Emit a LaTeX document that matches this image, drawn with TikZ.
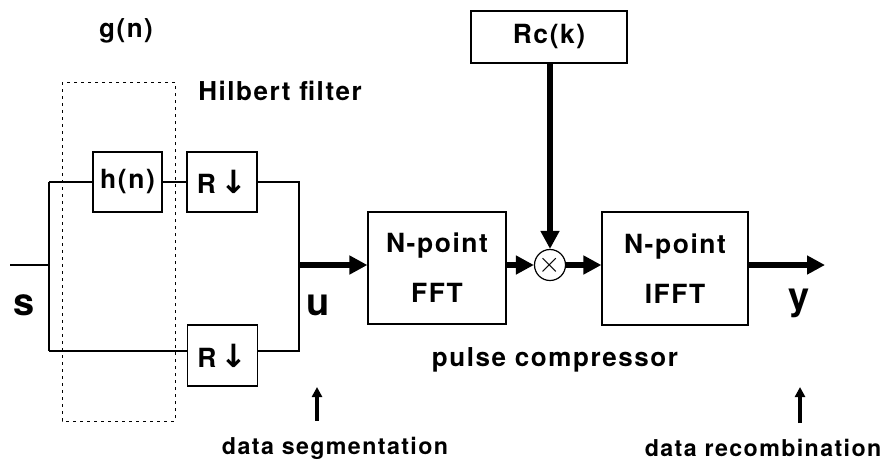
\documentclass[tikz,border=0pt]{standalone}
\usepackage{fontspec}
\setmainfont{TeX Gyre Heros}[LetterSpace=6]
\newfontfamily\arrowfont{DejaVu Sans}
\usepackage{tikz}
\usetikzlibrary{arrows.meta}

\begin{document}
\begin{tikzpicture}[x=0.5pt,y=-0.5pt,
  blk/.style={draw,line width=0.6pt,inner sep=0pt,font=\fontsize{13.2}{15}\selectfont\bfseries},
  sig/.style={line width=0.6pt},
  bus/.style={line width=2.6pt,-{Triangle[length=9pt,width=9pt]}},
  ptr/.style={line width=1.8pt,-{Triangle[length=5pt,width=5pt]}},
  lbl/.style={font=\fontsize{13}{15}\selectfont\bfseries},
  big/.style={font=\fontsize{19}{22}\selectfont\bfseries},
  note/.style={font=\fontsize{11.6}{13}\selectfont\bfseries}]
\useasboundingbox (0,0) rectangle (886,462);
%\draw[step=50,lightgray,very thin] (0,0) grid (886,462);
\draw[line width=0.5pt,dash pattern=on 1.5pt off 2pt] (62,82) rectangle (175,421);
\node[lbl] (gn) at (126,31) {g(n)};
\node[lbl] (hilb) at (280,91) {Hilbert filter};
\node[blk,minimum width=34.5pt,minimum height=30pt] (hn) at (127.5,182) {h(n)};
\node[blk,minimum width=35pt,minimum height=30pt] (rt) at (222,182) {R\,{\arrowfont\bfseries\fontsize{16}{16}\selectfont ↓}};
\node[blk,minimum width=35pt,minimum height=30.5pt] (rb) at (222.5,355.5) {R\,{\arrowfont\bfseries\fontsize{16}{16}\selectfont ↓}};
\node[blk,minimum width=69pt,minimum height=56pt,align=center] (fft) at (437,268) {N-point\\[10pt]FFT};
\node[blk,minimum width=73pt,minimum height=56.5pt,align=center] (ifft) at (675,268.5) {N-point\\[10pt]IFFT};
\node[blk,minimum width=78pt,minimum height=26pt] (rc) at (549,37) {Rc(k)};
\node[draw,circle,line width=0.6pt,minimum size=15.5pt,inner sep=0pt] (mul) at (550,265) {\Large$\times$};
\node[big] (s) at (24,305) {s};
\node[big] (u) at (318,305) {u};
\node[big] (y) at (799,303) {y};
\node[lbl] (pc) at (555,360) {pulse compressor};
\node[note] (seg) at (335,448) {data segmentation};
\node[note] (rec) at (763,448) {data recombination};
\coordinate (in) at (10,265);
\coordinate (split) at (49,265);
\coordinate (tl) at (49,182);
\coordinate (bl) at (49,351);
\coordinate (tr) at (299,182);
\coordinate (br) at (299,351);
\coordinate (join) at (299,265);
\coordinate (out) at (825,265);
\coordinate (segtip) at (317,387);
\coordinate (rectip) at (800,387);
\draw[sig] (in) -- (split);
\draw[sig] (tl) -- (bl);
\draw[sig] (tl) -- (hn.west);
\draw[sig] (hn.east) -- (rt.west);
\draw[sig] (rt.east) -- (tr) -- (br) -- (br -| rb.east);
\draw[sig] (bl) -- (bl -| rb.west);
\draw[bus] (join) -- (join -| fft.west);
\draw[bus] (mul -| fft.east) -- (mul.west);
\draw[bus] (mul.east) -- (mul -| ifft.west);
\draw[bus] (rc.south -| mul) -- (mul.north);
\draw[bus] (mul -| ifft.east) -- (out);
\draw[ptr] (seg.north -| segtip) ++(0,-9) -- (segtip);
\draw[ptr] (rec.north -| rectip) ++(0,-9) -- (rectip);
\end{tikzpicture}
\end{document}
